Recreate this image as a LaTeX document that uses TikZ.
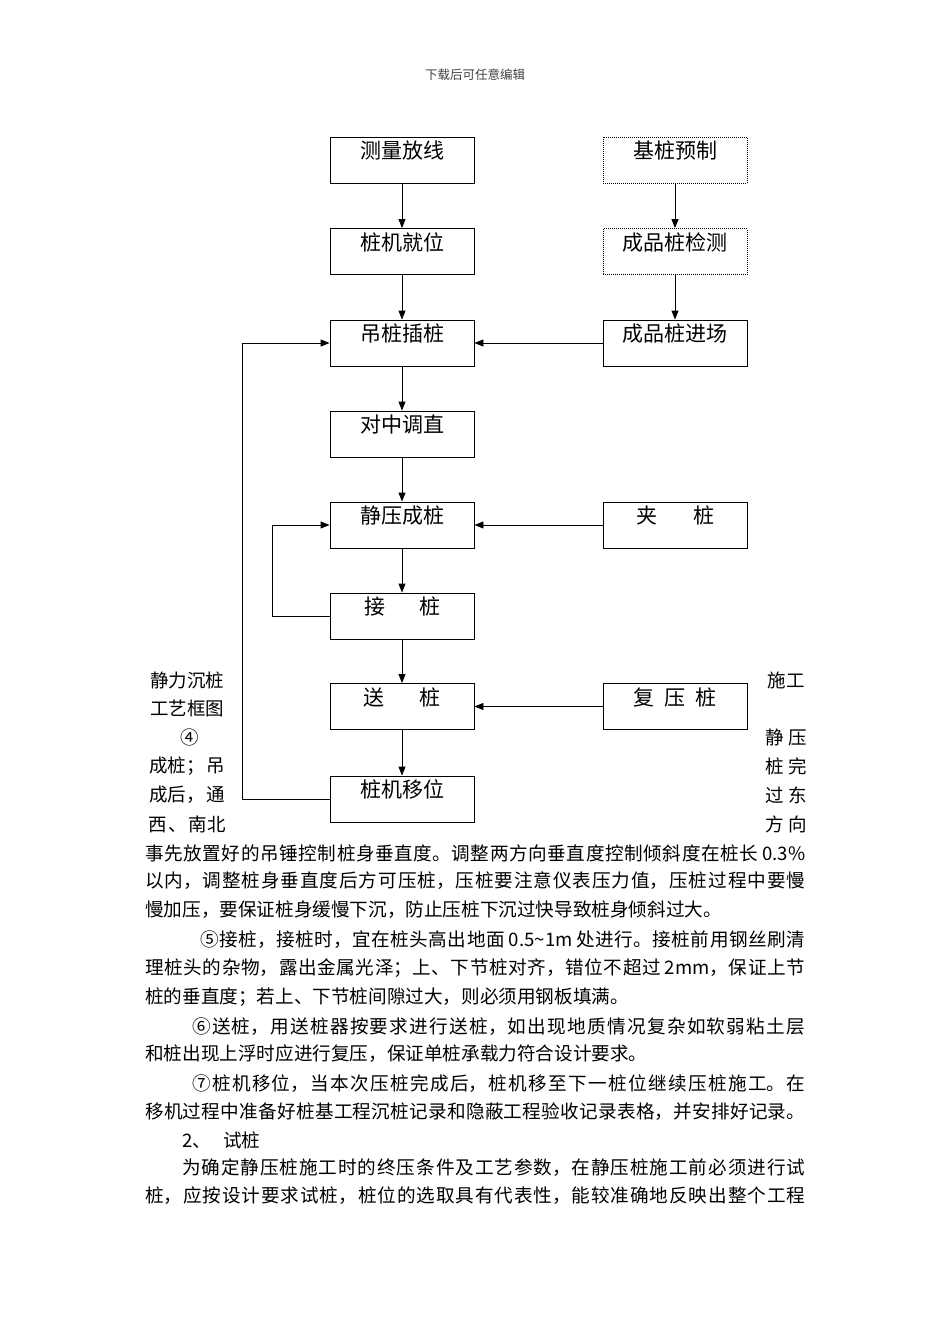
\documentclass[tikz,border=0pt]{standalone}
\usepackage{fontspec}
\setmainfont{Noto Sans CJK SC}
\usetikzlibrary{arrows.meta}
\XeTeXlinebreaklocale "zh"
\XeTeXlinebreakskip=0pt plus 3pt minus 0.4pt
\newcommand{\fulline}[2]{\parbox{#1}{\parfillskip=0pt\noindent\hbadness=10000 #2}}
\newcommand{\tsp}{\hspace{4pt}}
\begin{document}
\begin{tikzpicture}[x=1pt,y=-1pt,
  box/.style={draw,line width=0.9pt,minimum width=144pt,minimum height=46pt,inner sep=0pt,
     font=\fontsize{21}{21}\selectfont,text height=10pt,text depth=13pt},
  dotbox/.style={box,dash pattern=on 1pt off 1pt},
  arr/.style={line width=0.9pt,-{Triangle[length=9pt,width=7pt]}},
  side/.style={inner sep=0pt,font=\fontsize{18.5}{18.5}\selectfont},
  body/.style={inner sep=0pt,anchor=west,font=\fontsize{18.6}{18.6}\selectfont},
  head/.style={inner sep=0pt,font=\fontsize{12.5}{12.5}\selectfont,text=black!75}]
\useasboundingbox (0,0) rectangle (950,1344);
\fill[white] (0,0) rectangle (950,1344);

\node[head] (hd) at (475,75) {下载后可任意编辑};

% left column
\node[box] (m1) at (402,160) {测量放线};
\node[box] (m2) at (402,251.5) {桩机就位};
\node[box] (m3) at (402,343) {吊桩插桩};
\node[box] (m4) at (402,434) {对中调直};
\node[box] (m5) at (402,525) {静压成桩};
\node[box] (m6) at (402,616) {接\hspace{34pt}桩};
\node[box] (m7) at (402,706.5) {送\hspace{36pt}桩};
\node[box] (m8) at (402,799) {桩机移位};

% right column
\node[dotbox] (r1) at (675,160) {基桩预制};
\node[dotbox] (r2) at (675,251.5) {成品桩检测};
\node[box] (r3) at (675,343) {成品桩进场};
\node[box] (r5) at (675,525) {夹\hspace{36pt}桩};
\node[box] (r7) at (675,706.5) {复\hspace{10pt}压\hspace{10pt}桩};

% connectors
\draw[arr] (m1) -- (m2);
\draw[arr] (m2) -- (m3);
\draw[arr] (m3) -- (m4);
\draw[arr] (m4) -- (m5);
\draw[arr] (m5) -- (m6);
\draw[arr] (m6) -- (m7);
\draw[arr] (m7) -- (m8);
\draw[arr] (r1) -- (r2);
\draw[arr] (r2) -- (r3);
\draw[arr] (r3) -- (m3);
\draw[arr] (r5) -- (m5);
\draw[arr] (r7) -- (m7);
\draw[arr] (m8.west) -- ++(-87,0) |- (m3.west);
\draw[arr] (m6.west) -- ++(-57,0) |- (m5.west);

% side texts
\node[side] (l1) at (187,680) {静力沉桩};
\node[side] (l2) at (187,708) {工艺框图};
\node[side] (l3) at (190,737) {④};
\node[side] (l4) at (187,766) {成桩；\hspace{2pt}吊};
\node[side] (l5) at (187,795) {成后，\hspace{2pt}通};
\node[side] (l6) at (187,824) {西\hspace{2pt}、\hspace{2pt}南北};
\node[side] (s1) at (786,680) {施工};
\node[side] (s2) at (786,737) {静\hspace{5pt}压};
\node[side] (s3) at (786,766) {桩\hspace{5pt}完};
\node[side] (s4) at (786,795) {过\hspace{5pt}东};
\node[side] (s5) at (786,824) {方\hspace{5pt}向};

% body text
\node[body] (b1) at (145,853) {\fulline{660pt}{事先放置好的吊锤控制桩身垂直度。调整两方向垂直度控制倾斜度在桩长\tsp 0.3\%}};
\node[body] (b2) at (145,881) {\fulline{660pt}{以内，调整桩身垂直度后方可压桩，压桩要注意仪表压力值，压桩过程中要慢}};
\node[body] (b3) at (145,910) {慢加压，要保证桩身缓慢下沉，防止压桩下沉过快导致桩身倾斜过大。};
\node[body] (b4) at (200,940) {\fulline{605pt}{⑤接桩，接桩时，宜在桩头高出地面\tsp 0.5\textasciitilde{}1m\tsp 处进行。接桩前用钢丝刷清}};
\node[body] (b5) at (145,968) {\fulline{660pt}{理桩头的杂物，露出金属光泽；上、下节桩对齐，错位不超过\tsp 2mm，保证上节}};
\node[body] (b6) at (145,997) {桩的垂直度；若上、下节桩间隙过大，则必须用钢板填满。};
\node[body] (b7) at (192,1027) {\fulline{613pt}{⑥送桩，用送桩器按要求进行送桩，如出现地质情况复杂如软弱粘土层}};
\node[body] (b8) at (145,1054) {和桩出现上浮时应进行复压，保证单桩承载力符合设计要求。};
\node[body] (b9) at (192,1084) {\fulline{613pt}{⑦桩机移位，当本次压桩完成后，桩机移至下一桩位继续压桩施工。在}};
\node[body] (b10) at (145,1112) {\fulline{660pt}{移机过程中准备好桩基工程沉桩记录和隐蔽工程验收记录表格，并安排好记录。}};
\node[body] (b11) at (182,1140) {2、\hspace{12pt}试桩};
\node[body] (b12) at (182,1168) {\fulline{623pt}{为确定静压桩施工时的终压条件及工艺参数，在静压桩施工前必须进行试}};
\node[body] (b13) at (145,1196) {\fulline{660pt}{桩，应按设计要求试桩，桩位的选取具有代表性，能较准确地反映出整个工程}};
\end{tikzpicture}
\end{document}
